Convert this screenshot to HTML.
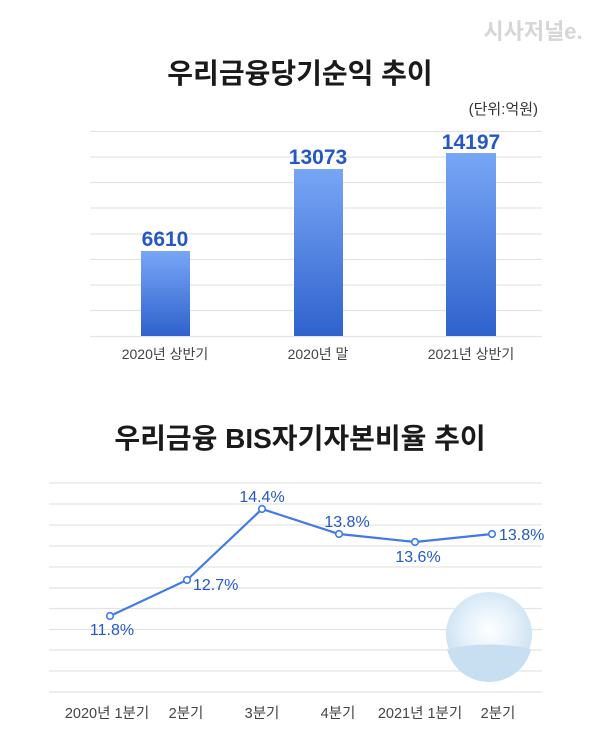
<!DOCTYPE html>
<html><head><meta charset="utf-8"><style>
body{margin:0;background:#fff;}
svg text{font-family:"Liberation Sans","Noto Sans CJK KR",sans-serif;}
</style></head><body>
<svg width="600" height="736" viewBox="0 0 600 736" xmlns="http://www.w3.org/2000/svg">
<defs>
<linearGradient id="bg" x1="0" y1="0" x2="0" y2="1"><stop offset="0" stop-color="#78a6f6"/><stop offset="1" stop-color="#2f62cc"/></linearGradient>
<radialGradient id="cg" cx="0.5" cy="0.45" r="0.6"><stop offset="0" stop-color="#ffffff"/><stop offset="0.5" stop-color="#e4f1fa"/><stop offset="1" stop-color="#c6ddf0"/></radialGradient>
</defs>
<rect width="600" height="736" fill="#fff"/>
<text x="533" y="39" font-size="22" font-weight="bold" fill="#d6d6d6" text-anchor="middle">시사저널e.</text>
<text x="300" y="83" font-size="28" font-weight="bold" fill="#1a1a1a" text-anchor="middle">우리금융당기순익 추이</text>
<text x="538" y="114" font-size="15" fill="#333" text-anchor="end">(단위:억원)</text>
<g stroke="#e3e3e3" stroke-width="1.2">
<line x1="90" x2="542" y1="131.5" y2="131.5"/><line x1="90" x2="542" y1="157" y2="157"/><line x1="90" x2="542" y1="182.5" y2="182.5"/><line x1="90" x2="542" y1="208" y2="208"/><line x1="90" x2="542" y1="234" y2="234"/><line x1="90" x2="542" y1="259.5" y2="259.5"/><line x1="90" x2="542" y1="285" y2="285"/><line x1="90" x2="542" y1="310.5" y2="310.5"/><line x1="90" x2="542" y1="336.5" y2="336.5"/>
</g>
<rect x="141" y="251" width="49" height="85" fill="url(#bg)"/>
<rect x="294" y="169" width="49" height="167" fill="url(#bg)"/>
<rect x="446" y="153" width="50" height="183" fill="url(#bg)"/>
<g font-size="21" font-weight="bold" fill="#2458c6" text-anchor="middle">
<text x="165" y="246">6610</text><text x="318" y="164">13073</text><text x="471" y="149">14197</text>
</g>
<g font-size="14" fill="#444" text-anchor="middle">
<text x="165" y="359">2020년 상반기</text><text x="318" y="359">2020년 말</text><text x="471" y="359">2021년 상반기</text>
</g>
<text x="300" y="448" font-size="28" font-weight="bold" fill="#1a1a1a" text-anchor="middle">우리금융 BIS자기자본비율 추이</text>
<g stroke="#e3e3e3" stroke-width="1.2">
<line x1="49" x2="542" y1="483" y2="483"/><line x1="49" x2="542" y1="504" y2="504"/><line x1="49" x2="542" y1="525" y2="525"/><line x1="49" x2="542" y1="546" y2="546"/><line x1="49" x2="542" y1="567" y2="567"/><line x1="49" x2="542" y1="588" y2="588"/><line x1="49" x2="542" y1="608.5" y2="608.5"/><line x1="49" x2="542" y1="629.5" y2="629.5"/><line x1="49" x2="542" y1="650" y2="650"/><line x1="49" x2="542" y1="671" y2="671"/><line x1="49" x2="542" y1="692" y2="692"/>
</g>
<ellipse cx="489" cy="634" rx="43" ry="42" fill="url(#cg)"/>
<path d="M447 649 Q489 640 531 649 A43 42 0 0 1 447 649Z" fill="#c8def1"/>
<polyline points="110,616 187,580 262,509 339,534 415,542 492,534" fill="none" stroke="#3f7ae6" stroke-width="2.2"/>
<g fill="#fff" stroke="#3f7ae6" stroke-width="1.6">
<circle cx="110" cy="616" r="3.3"/><circle cx="187" cy="580" r="3.3"/><circle cx="262" cy="509" r="3.3"/><circle cx="339" cy="534" r="3.3"/><circle cx="415" cy="542" r="3.3"/><circle cx="492" cy="534" r="3.3"/>
</g>
<g font-size="16" fill="#2458c6">
<text x="112" y="635" text-anchor="middle">11.8%</text>
<text x="193" y="590">12.7%</text>
<text x="262" y="502" text-anchor="middle">14.4%</text>
<text x="347" y="527" text-anchor="middle">13.8%</text>
<text x="418" y="562" text-anchor="middle">13.6%</text>
<text x="499" y="540">13.8%</text>
</g>
<g font-size="14.5" fill="#444" text-anchor="middle">
<text x="107" y="718">2020년 1분기</text><text x="186" y="718">2분기</text><text x="262" y="718">3분기</text><text x="338" y="718">4분기</text><text x="420" y="718">2021년 1분기</text><text x="498" y="718">2분기</text>
</g>
</svg>
</body></html>
